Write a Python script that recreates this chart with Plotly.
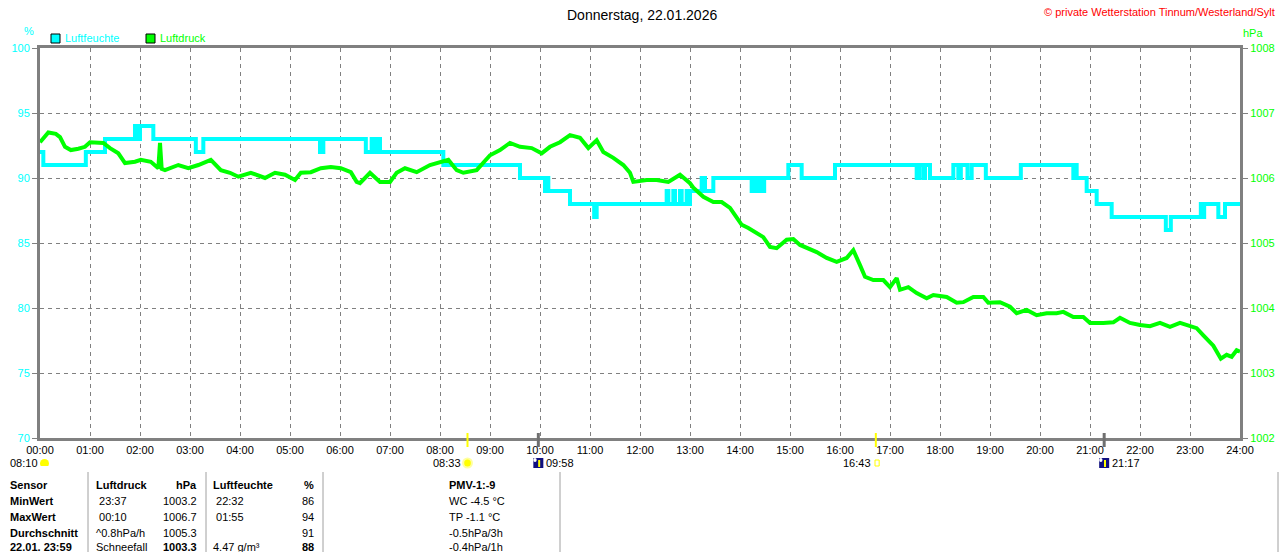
import plotly.graph_objects as go

# Luftdruck (hPa)
druck_zeit = ["00:00", "00:10", "00:19", "00:24", "00:30", "00:37", "00:46", "00:54", "01:00", "01:07",
              "01:16", "01:24", "01:34", "01:42", "01:54", "02:01", "02:13", "02:22", "02:24", "02:26",
              "02:30", "02:46", "02:58", "03:10", "03:25", "03:37", "03:48", "03:58", "04:13", "04:30",
              "04:42", "04:54", "05:06", "05:13", "05:25", "05:37", "05:49", "06:01", "06:13", "06:20",
              "06:24", "06:36", "06:48", "07:00", "07:08", "07:18", "07:32", "07:48", "08:00", "08:10",
              "08:20", "08:28", "08:44", "08:52", "09:00", "09:12", "09:24", "09:36", "09:50", "10:02",
              "10:12", "10:24", "10:36", "10:48", "10:58", "11:08", "11:16", "11:28", "11:40", "11:48",
              "11:52", "12:08", "12:20", "12:34", "12:48", "13:00", "13:04", "13:16", "13:28", "13:38",
              "13:48", "13:54", "14:02", "14:10", "14:16", "14:28", "14:36", "14:44", "14:56", "15:04",
              "15:12", "15:22", "15:32", "15:44", "15:56", "16:08", "16:16", "16:24", "16:30", "16:40",
              "16:52", "17:00", "17:08", "17:12", "17:22", "17:32", "17:44", "17:52", "18:08", "18:20",
              "18:28", "18:40", "18:52", "18:58", "19:12", "19:24", "19:32", "19:44", "19:56", "20:08",
              "20:20", "20:28", "20:40", "20:52", "21:00", "21:16", "21:28", "21:36", "21:48", "22:00",
              "22:12", "22:24", "22:36", "22:48", "23:00", "23:08", "23:16", "23:28", "23:37", "23:44",
              "23:50", "23:56", "24:00"]
druck_wert = [1006.55, 1006.70, 1006.68, 1006.63, 1006.48, 1006.43, 1006.45, 1006.48, 1006.55, 1006.54,
              1006.54, 1006.46, 1006.38, 1006.23, 1006.25, 1006.28, 1006.25, 1006.15, 1006.54, 1006.14,
              1006.12, 1006.20, 1006.15, 1006.20, 1006.28, 1006.12, 1006.08, 1006.02, 1006.08, 1006.00,
              1006.08, 1006.05, 1005.97, 1006.08, 1006.09, 1006.15, 1006.17, 1006.15, 1006.09, 1005.94,
              1005.92, 1006.08, 1005.94, 1005.94, 1006.08, 1006.15, 1006.09, 1006.20, 1006.25, 1006.28,
              1006.12, 1006.08, 1006.12, 1006.23, 1006.35, 1006.43, 1006.54, 1006.48, 1006.46, 1006.38,
              1006.48, 1006.55, 1006.66, 1006.62, 1006.46, 1006.58, 1006.40, 1006.31, 1006.20, 1006.08,
              1005.94, 1005.97, 1005.97, 1005.94, 1006.05, 1005.92, 1005.85, 1005.71, 1005.63, 1005.63,
              1005.54, 1005.43, 1005.28, 1005.23, 1005.18, 1005.09, 1004.94, 1004.92, 1005.05, 1005.06,
              1004.97, 1004.92, 1004.86, 1004.77, 1004.71, 1004.77, 1004.89, 1004.66, 1004.48, 1004.43,
              1004.43, 1004.32, 1004.46, 1004.28, 1004.32, 1004.23, 1004.15, 1004.20, 1004.17, 1004.08,
              1004.09, 1004.17, 1004.17, 1004.08, 1004.09, 1004.02, 1003.92, 1003.97, 1003.89, 1003.92,
              1003.92, 1003.94, 1003.86, 1003.86, 1003.77, 1003.77, 1003.78, 1003.85, 1003.77, 1003.74,
              1003.72, 1003.77, 1003.71, 1003.77, 1003.72, 1003.69, 1003.58, 1003.42, 1003.22, 1003.28,
              1003.25, 1003.35, 1003.33]

# Luftfeuchte (%), Stufen
feuchte_zeit = ["00:00", "00:04", "00:55", "01:18", "01:54", "01:56", "02:00", "02:16", "03:07", "03:16",
                "05:36", "05:40", "06:31", "06:38", "06:42", "06:45", "06:48", "08:04", "09:36", "10:06",
                "10:08", "10:10", "10:36", "11:05", "11:08", "12:32", "12:34", "12:40", "12:42", "12:48",
                "12:50", "12:56", "12:58", "13:00", "13:14", "13:18", "13:28", "14:14", "14:17", "14:20",
                "14:23", "14:26", "14:29", "14:58", "15:14", "15:54", "17:32", "17:35", "17:40", "17:42",
                "17:48", "18:16", "18:22", "18:25", "18:33", "18:38", "18:55", "19:37", "20:40", "20:42",
                "20:44", "20:56", "21:08", "21:26", "22:31", "22:37", "23:13", "23:15", "23:17", "23:34",
                "23:42", "24:00"]
feuchte_wert = [92, 91, 92, 93, 94, 93, 94, 93, 92, 93,
                92, 93, 92, 93, 92, 93, 92, 91, 90, 89,
                90, 89, 88, 87, 88, 89, 88, 89, 88, 89,
                88, 89, 88, 89, 90, 89, 90, 89, 90, 89,
                90, 89, 90, 91, 90, 91, 90, 91, 90, 91,
                90, 91, 90, 91, 90, 91, 90, 91, 90, 91,
                90, 89, 88, 87, 86, 87, 88, 87, 88, 87,
                88, 88]

stunden = ["%02d:00" % h for h in range(25)]

# Sonne / Mond
sonne_auf = "08:33"
sonne_unter = "16:43"
mond_auf = "09:58"
mond_unter = "21:17"
daemmerung = "08:10"

# Tabelle
tab_sensor = ["Sensor", "MinWert", "MaxWert", "Durchschnitt", "22.01. 23:59"]
tab_druck_info = ["<b>Luftdruck</b>", " 23:37", " 00:10", "^0.8hPa/h", "Schneefall"]
tab_druck = ["<b>hPa</b>", "1003.2", "1006.7", "1005.3", "<b>1003.3</b>"]
tab_feuchte_info = ["<b>Luftfeuchte</b>", " 22:32", " 01:55", "", "4.47 g/m³"]
tab_feuchte = ["<b>%</b>", "86", "94", "91", "<b>88</b>"]
tab_extra = ["<b>PMV-1:-9</b>", "WC -4.5 °C", "TP -1.1 °C", "-0.5hPa/3h", "-0.4hPa/1h"]

CYAN = "#00FFFF"
GRUEN = "#00FF00"
GRAU = "#808080"
FONT = "Liberation Sans, Arial, sans-serif"


def minuten(t):
    h, m = t.split(":")
    return int(h) * 60 + int(m)


def px(x):
    return (x - 40) / 1200.0


def py(y):
    return (438 - y) / 390.0


fig = go.Figure()
fig.add_trace(go.Scatter(x=[minuten(t) for t in druck_zeit], y=druck_wert, yaxis="y2",
                         mode="lines", line=dict(color=GRUEN, width=4), name="Luftdruck"))
fig.add_trace(go.Scatter(x=[minuten(t) for t in feuchte_zeit], y=feuchte_wert,
                         mode="lines", line=dict(color=CYAN, width=4, shape="hv"), name="Luftfeuchte"))

ann = []
shapes = []

def text(x, y, s, color="black", size=11, anchor="left", xref="paper", xshift=0):
    ann.append(dict(x=x, y=y, xref=xref, yref="paper", text=s, showarrow=False,
                    xanchor=anchor, yanchor="middle", xshift=xshift,
                    font=dict(family=FONT, size=size, color=color)))

# Kopf
text(px(642), py(15), "Donnerstag, 22.01.2026", size=14, anchor="center")
text(px(1277), py(12), "© private Wetterstation Tinnum/Westerland/Sylt", color="red", anchor="right")
text(px(22), py(31), "%", color=CYAN)
text(px(1241), py(33), "hPa", color=GRUEN)

# Legende
shapes.append(dict(type="rect", xref="paper", yref="paper", x0=px(51), x1=px(60), y0=py(43), y1=py(34),
                   fillcolor=CYAN, line=dict(color="black", width=1)))
text(px(63), py(38), "Luftfeuchte", color=CYAN)
shapes.append(dict(type="rect", xref="paper", yref="paper", x0=px(146), x1=px(155), y0=py(43), y1=py(34),
                   fillcolor=GRUEN, line=dict(color="black", width=1)))
text(px(158), py(38), "Luftdruck", color=GRUEN)

# Sonne/Mond Markierungen an der Zeitachse
for t in [sonne_auf, sonne_unter]:
    shapes.append(dict(type="line", xref="x", yref="paper", x0=minuten(t), x1=minuten(t),
                       y0=py(433), y1=py(447), line=dict(color="#FFFF00", width=2)))
for t in [mond_auf, mond_unter]:
    shapes.append(dict(type="line", xref="x", yref="paper", x0=minuten(t), x1=minuten(t),
                       y0=py(433), y1=py(447), line=dict(color="#707070", width=3)))

# Daemmerung
text(px(8), py(463), daemmerung)
shapes.append(dict(type="circle", xref="paper", yref="paper", x0=px(40), x1=px(49), y0=py(468), y1=py(459),
                   fillcolor="#FFFF00", line=dict(width=0)))
shapes.append(dict(type="rect", xref="paper", yref="paper", x0=px(39), x1=px(50), y0=py(472), y1=py(466),
                   fillcolor="white", line=dict(width=0)))

# Sonnenaufgang
m = minuten(sonne_auf)
text(m, py(463), sonne_auf, anchor="right", xref="x", xshift=-5)
shapes.append(dict(type="circle", xref="x", yref="paper", x0=m - 6.5, x1=m + 6.5, y0=py(468.5), y1=py(457.5),
                   fillcolor="#FFFFA0", line=dict(width=0)))
shapes.append(dict(type="circle", xref="x", yref="paper", x0=m - 4, x1=m + 4, y0=py(466.5), y1=py(459.5),
                   fillcolor="#FFFF00", line=dict(width=0)))

# Sonnenuntergang
m = minuten(sonne_unter)
text(m, py(463), sonne_unter, anchor="right", xref="x", xshift=-3)
shapes.append(dict(type="rect", xref="x", yref="paper", x0=m - 1, x1=m + 4, y0=py(466), y1=py(460),
                   fillcolor="white", line=dict(color="#FFFF00", width=1)))

# Mond
for t in [mond_auf, mond_unter]:
    m = minuten(t)
    shapes.append(dict(type="rect", xref="x", yref="paper", x0=m - 6, x1=m + 6, y0=py(468), y1=py(458),
                       fillcolor="#101080", line=dict(width=0)))
    shapes.append(dict(type="line", xref="x", yref="paper", x0=m + 1, x1=m + 1, y0=py(467), y1=py(460),
                       line=dict(color="#FFFF00", width=2)))
    shapes.append(dict(type="circle", xref="x", yref="paper", x0=m - 6, x1=m - 2, y0=py(462), y1=py(458),
                       fillcolor="white", line=dict(width=0)))
    text(m, py(463), t, anchor="left", xref="x", xshift=6)

# Tabelle
zeilen = [485, 501, 517, 533, 547]
for i, y in enumerate(zeilen):
    text(px(8), py(y), "<b>" + tab_sensor[i] + "</b>")
    text(px(94), py(y), tab_druck_info[i])
    text(px(199), py(y), tab_druck[i], anchor="right")
    text(px(211), py(y), tab_feuchte_info[i])
    text(px(316), py(y), tab_feuchte[i], anchor="right")
    text(px(447), py(y), tab_extra[i])

for x in [88, 206, 323, 560, 1278]:
    shapes.append(dict(type="line", xref="paper", yref="paper", x0=px(x), x1=px(x), y0=py(472), y1=py(560),
                       line=dict(color="#A0A0A0", width=1)))

fig.update_layout(
    width=1280, height=552, autosize=False,
    margin=dict(l=40, r=40, t=48, b=114, pad=0),
    paper_bgcolor="white", plot_bgcolor="white",
    showlegend=False,
    annotations=ann, shapes=shapes,
    font=dict(family=FONT, size=11, color="black"),
    xaxis=dict(range=[0, 1440], tickvals=[minuten(s) for s in stunden], ticktext=stunden,
               showgrid=True, gridcolor=GRAU, gridwidth=1, griddash="4px,4px", automargin=False,
               showline=True, linecolor=GRAU, linewidth=3, mirror=True, zeroline=False,
               ticks="", tickfont=dict(family=FONT, size=11, color="black")),
    yaxis=dict(range=[70, 100], dtick=5, showgrid=True, gridcolor=GRAU, gridwidth=1, griddash="4px,4px",
               showline=True, linecolor=GRAU, linewidth=3, zeroline=False, automargin=False,
               ticks="outside", ticklen=5, tickcolor=GRAU,
               tickfont=dict(family=FONT, size=11, color=CYAN)),
    yaxis2=dict(range=[1002, 1008], dtick=1, overlaying="y", side="right", showgrid=False,
                showline=True, linecolor=GRAU, linewidth=3, zeroline=False, automargin=False,
                ticks="outside", ticklen=5, tickcolor=GRAU,
                tickfont=dict(family=FONT, size=11, color=GRUEN)),
)

# Browser-Standardrand entfernen, damit die Grafik genau ins Fenster passt
fig.write_html("out.html", config={"displayModeBar": False, "responsive": False},
               post_script="document.body.style.margin='0';")
